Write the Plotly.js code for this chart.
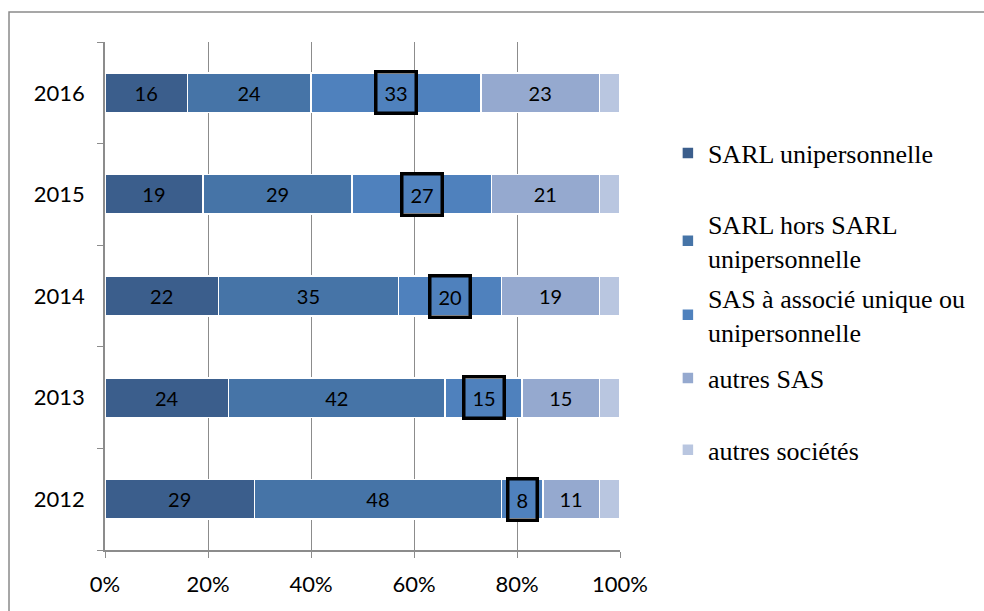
<!DOCTYPE html>
<html>
<head>
<meta charset="utf-8">
<script src="https://cdn.plot.ly/plotly-3.0.1.min.js"></script>
<style>
  html, body { margin: 0; padding: 0; background: #fff; }
  #chart { width: 984px; height: 611px; }
</style>
</head>
<body>
<div id="chart"></div>
<script>
// years, bottom to top
var years = ['2012', '2013', '2014', '2015', '2016'];

// shares in % for each legal form
var sarlUni = [29, 24, 22, 19, 16];
var sarlHors = [48, 42, 35, 29, 24];
var sasUnique = [8, 15, 20, 27, 33];
var autresSas = [11, 15, 19, 21, 23];
var autresSocietes = [4, 4, 4, 4, 4];

var seriesNames = [
  'SARL unipersonnelle',
  'SARL hors SARL<br>unipersonnelle',
  'SAS à associé unique ou<br>unipersonnelle',
  'autres SAS',
  'autres sociétés'
];
var seriesColors = ['#3b5e8c', '#4674a7', '#4f81bd', '#95a9cf', '#b9c6e0'];

// legend item centres (paper y), one legend per series
var legendY = [0.7815, 0.6083, 0.4626, 0.3386, 0.1969];

function labelFont() {
  return {family: 'Lato', size: 20, color: '#000'};
}

function makeTrace(values, idx, showText) {
  return {
    type: 'bar',
    orientation: 'h',
    y: years,
    x: values,
    name: seriesNames[idx],
    legend: idx === 0 ? 'legend' : 'legend' + (idx + 1),
    marker: {color: seriesColors[idx], line: {color: '#ffffff', width: 1.5}},
    text: showText ? values.map(String) : null,
    textposition: showText ? 'inside' : 'none',
    insidetextanchor: 'middle',
    textfont: labelFont(),
    constraintext: 'none',
    hoverinfo: 'name+x'
  };
}

var data = [
  makeTrace(sarlUni, 0, true),
  makeTrace(sarlHors, 1, true),
  makeTrace(sasUnique, 2, false),
  makeTrace(autresSas, 3, true),
  makeTrace(autresSocietes, 4, false)
];

// boxed labels for the SAS à associé unique series
// (category axis: y given as the category index)
var annotations = years.map(function(yr, i) {
  return {
    x: sarlUni[i] + sarlHors[i] + sasUnique[i] / 2,
    y: i,
    text: String(sasUnique[i]),
    showarrow: false,
    font: labelFont(),
    bordercolor: '#000000',
    borderwidth: 3.5,
    borderpad: 7
  };
});

function tickFont() {
  return {family: 'Lato', size: 22, color: '#000'};
}

var layout = {
  width: 984,
  height: 611,
  margin: {l: 105, r: 364, t: 42, b: 61, autoexpand: false},
  paper_bgcolor: '#ffffff',
  plot_bgcolor: '#ffffff',
  barmode: 'stack',
  bargap: 0.61,
  showlegend: true,
  xaxis: {
    range: [0, 100],
    dtick: 20,
    tick0: 0,
    ticksuffix: '%',
    showgrid: true,
    gridcolor: '#8c8c8c',
    gridwidth: 1,
    zeroline: false,
    showline: true,
    linecolor: '#8c8c8c',
    linewidth: 1.5,
    ticks: 'outside',
    ticklen: 6,
    tickcolor: '#8c8c8c',
    ticklabelstandoff: 8,
    tickfont: tickFont(),
    fixedrange: true
  },
  yaxis: {
    type: 'category',
    range: [-0.5, 4.5],
    showgrid: false,
    zeroline: false,
    showline: true,
    linecolor: '#8c8c8c',
    linewidth: 1.5,
    ticks: 'outside',
    tickson: 'boundaries',
    ticklen: 6,
    tickcolor: '#8c8c8c',
    ticklabelstandoff: 14,
    tickfont: tickFont(),
    fixedrange: true
  },
  annotations: annotations,
  shapes: [{
    type: 'rect',
    xref: 'paper',
    yref: 'paper',
    x0: -0.1864,
    x1: 2,
    y0: -0.5,
    y1: 1.0591,
    line: {color: '#8a8a8a', width: 1.5},
    layer: 'below'
  }]
};

// one legend box per series to reproduce the uneven spacing
legendY.forEach(function(yPos, i) {
  var key = i === 0 ? 'legend' : 'legend' + (i + 1);
  layout[key] = {
    x: 1.093,
    xanchor: 'left',
    y: yPos,
    yanchor: 'middle',
    font: {family: 'Liberation Serif, Times New Roman, serif', size: 26, color: '#000'}
  };
});

Plotly.newPlot('chart', data, layout, {displayModeBar: false}).then(function(gd) {
  // make sure the legend keeps the serif face of the original
  gd.querySelectorAll('.legendtext').forEach(function(t) {
    t.style.fontFamily = '"Liberation Serif", "Times New Roman", serif';
  });
});
</script>
</body>
</html>
